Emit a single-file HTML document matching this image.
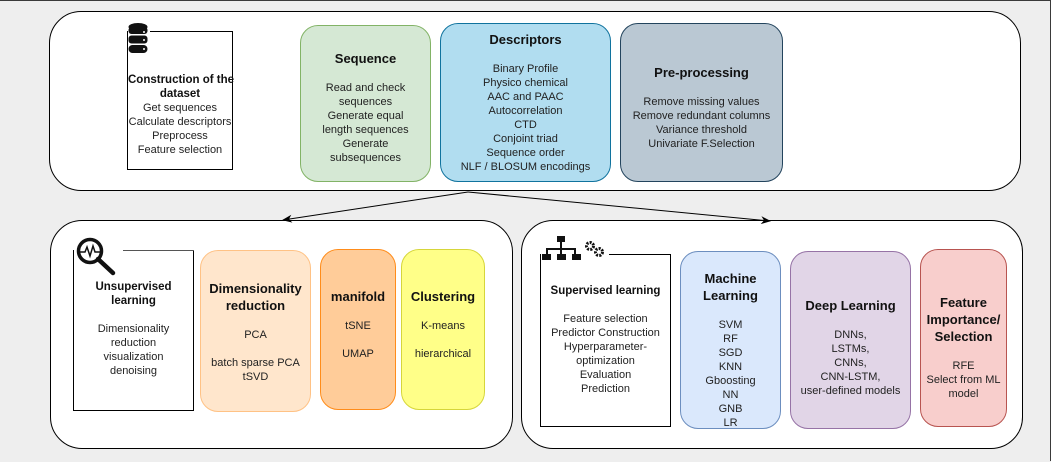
<!DOCTYPE html>
<html><head><meta charset="utf-8"><style>
*{box-sizing:border-box;margin:0;padding:0}
body{width:1051px;height:461px;background:#eeeeee;position:relative;overflow:hidden;font-family:"Liberation Sans",Arial,sans-serif;color:#222;border:1px solid #3a3a3a;border-bottom:none;border-left:none}
.a{position:absolute}
.c{position:absolute;background:#fff;border:1.3px solid #000;border-radius:32px}
.b{position:absolute;border-radius:18px;display:flex;flex-direction:column;justify-content:center;align-items:center;text-align:center;font-size:11px;line-height:14px;padding:0 4px}
.b h{display:block;font-weight:bold;font-size:13px;line-height:17px;color:#111}
.w{position:absolute;background:#fff;border:1px solid #000;text-align:center;font-size:11px;line-height:14px;display:flex;flex-direction:column;justify-content:center}
.w b{font-size:11.5px;color:#111}
</style></head><body>
<div class="c" style="left:49px;top:10px;width:972px;height:180px"></div>
<div class="c" style="left:50px;top:219px;width:463px;height:229px"></div>
<div class="c" style="left:521px;top:219px;width:502px;height:229px"></div>

<svg class="a" style="left:0;top:0" width="1051" height="461">
<defs><marker id="m" markerWidth="10" markerHeight="8" refX="9" refY="4" orient="auto"><path d="M0,0 L10,4 L0,8 L3,4z" fill="#000"/></marker></defs>
<line x1="468" y1="191" x2="283" y2="219" stroke="#000" stroke-width="1" marker-end="url(#m)"/>
<line x1="468" y1="191" x2="770" y2="220" stroke="#000" stroke-width="1" marker-end="url(#m)"/>
</svg>

<div class="w" style="left:127px;top:30px;width:106px;height:139px;padding-top:30px;border-top:none;white-space:nowrap"><b>Construction of the<br>dataset</b>Get sequences<br>Calculate descriptors<br>Preprocess<br>Feature selection</div>
<div class="a" style="left:150px;top:30px;width:83px;border-top:1px solid #000"></div>
<svg class="a" style="left:128px;top:22px" width="20" height="34"><g fill="#111"><ellipse cx="10" cy="4" rx="9.5" ry="4"/><rect x="0.5" y="4" width="19" height="7" rx="3"/><rect x="0.5" y="12.5" width="19" height="8" rx="3"/><rect x="0.5" y="22" width="19" height="8" rx="4"/></g><g fill="#fff"><circle cx="16" cy="9" r="1"/><circle cx="16" cy="17" r="1"/><circle cx="16" cy="26" r="1"/></g></svg>

<div class="b" style="left:300px;top:24px;width:131px;height:157px;background:#d5e8d4;border:1px solid #82b366;padding:0 12px;padding-top:8px"><h>Sequence</h><br>Read and check sequences<br>Generate equal length sequences<br>Generate subsequences</div>
<div class="b" style="left:440px;top:22px;width:171px;height:159px;background:#b1ddf0;border:1px solid #10739e"><h>Descriptors</h><br>Binary Profile<br>Physico chemical<br>AAC and PAAC<br>Autocorrelation<br>CTD<br>Conjoint triad<br>Sequence order<br>NLF / BLOSUM encodings</div>
<div class="b" style="left:620px;top:22px;width:163px;height:159px;background:#bac8d3;border:1px solid #23445d;padding-top:10px"><h>Pre-processing</h><br>Remove missing values<br>Remove redundant columns<br>Variance threshold<br>Univariate F.Selection</div>

<div class="w" style="left:73px;top:249px;width:121px;height:161px;border-top:none;justify-content:flex-start;padding-top:30px"><b>Unsupervised learning</b><br>Dimensionality reduction<br>visualization<br>denoising</div>
<div class="a" style="left:123px;top:249px;width:71px;border-top:1.3px solid #555"></div>
<svg class="a" style="left:76px;top:236px" width="44" height="42"><circle cx="14" cy="14" r="11.5" fill="#fff" stroke="#111" stroke-width="3.5"/><path d="M4,15 L9,15 L11,10 L14,19 L17,9 L19,15 L24,15" fill="none" stroke="#111" stroke-width="1.5"/><line x1="22" y1="22" x2="37" y2="36" stroke="#111" stroke-width="4.5" stroke-linecap="round"/></svg>
<div class="b" style="left:200px;top:249px;width:111px;height:162px;background:#ffe6cc;border:1px solid #ffc285;justify-content:flex-start;padding-top:29px"><h>Dimensionality reduction</h><br>PCA<br><br>batch sparse PCA<br>tSVD</div>
<div class="b" style="left:320px;top:248px;width:76px;height:161px;background:#ffcc99;border:1px solid #ff8c1a;justify-content:flex-start;padding-top:38px"><h>manifold</h><br>tSNE<br><br>UMAP</div>
<div class="b" style="left:401px;top:248px;width:84px;height:161px;background:#ffff88;border:1px solid #d6d63a;justify-content:flex-start;padding-top:38px"><h>Clustering</h><br>K-means<br><br>hierarchical</div>

<div class="w" style="left:540px;top:253px;width:131px;height:173px;border-top:none;justify-content:flex-start;padding-top:30px"><b>Supervised learning</b><br>Feature selection<br>Predictor Construction<br>Hyperparameter-<br>optimization<br>Evaluation<br>Prediction</div>
<div class="a" style="left:609px;top:253px;width:62px;border-top:1px solid #000"></div>
<svg class="a" style="left:541px;top:234px" width="70" height="30"><g fill="#111"><rect x="16" y="1" width="8" height="6"/><rect x="19" y="7" width="2" height="7"/><rect x="5" y="13" width="30" height="2"/><rect x="5" y="13" width="2" height="7"/><rect x="33" y="13" width="2" height="7"/><rect x="19" y="13" width="2" height="7"/><rect x="1" y="19" width="9" height="6"/><rect x="16" y="19" width="9" height="6"/><rect x="31" y="19" width="9" height="6"/></g><g fill="none" stroke="#111" stroke-width="3" stroke-dasharray="2 1.2"><circle cx="49" cy="11" r="3.5"/><circle cx="58" cy="17" r="3.5"/></g></svg>
<div class="b" style="left:680px;top:250px;width:101px;height:178px;background:#dae8fc;border:1px solid #6c8ebf;justify-content:flex-start;padding-top:18px"><h>Machine Learning</h><br>SVM<br>RF<br>SGD<br>KNN<br>Gboosting<br>NN<br>GNB<br>LR</div>
<div class="b" style="left:790px;top:250px;width:121px;height:178px;background:#e1d5e7;border:1px solid #9673a6;justify-content:flex-start;padding-top:45px"><h>Deep Learning</h><br>DNNs,<br>LSTMs,<br>CNNs,<br>CNN-LSTM,<br>user-defined models</div>
<div class="b" style="left:920px;top:248px;width:87px;height:178px;background:#f8cecc;border:1px solid #b85450;justify-content:flex-start;padding-top:44px"><h>Feature Importance/ Selection</h><br>RFE<br>Select from ML model</div>
</body></html>
